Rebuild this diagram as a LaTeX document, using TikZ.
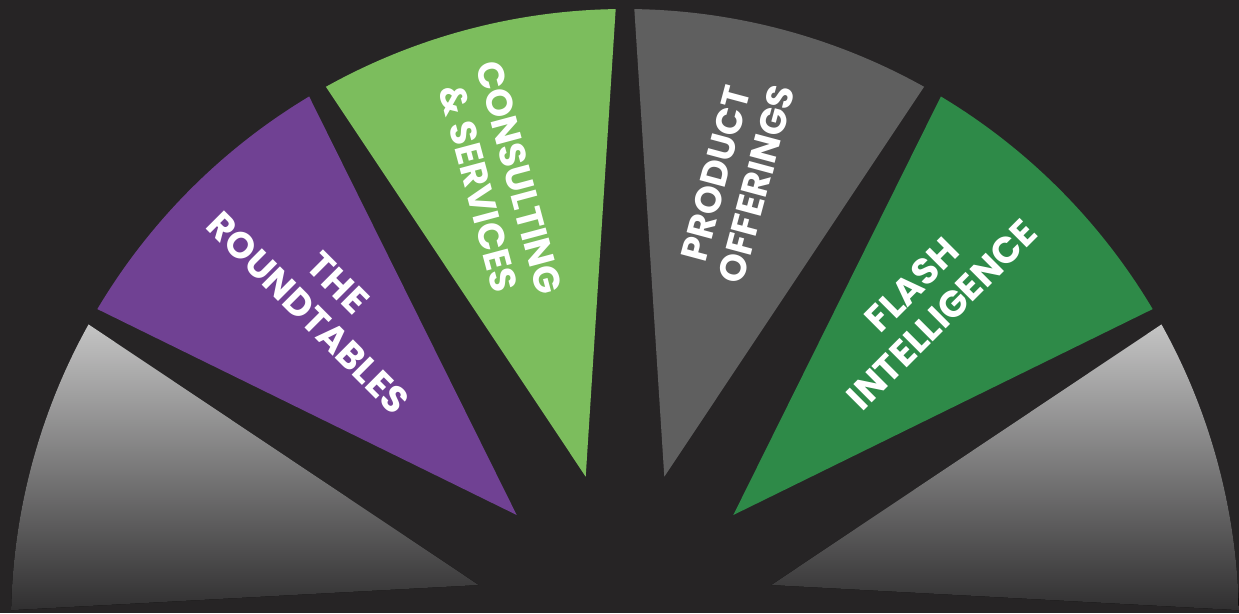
\documentclass[tikz,border=0pt]{standalone}
\usepackage{fontspec}
\setmainfont{Poppins}
\usepackage{tikz}
\usetikzlibrary{calc}
\definecolor{bgdark}{RGB}{38,36,37}
\definecolor{rtpurple}{RGB}{112,65,147}
\definecolor{csgreen}{RGB}{124,189,93}
\definecolor{pogray}{RGB}{95,95,95}
\definecolor{figreen}{RGB}{46,138,72}
\definecolor{fanlight}{RGB}{196,196,196}
\definecolor{fandark}{RGB}{48,47,48}

\begin{document}
\begin{tikzpicture}[
    x=0.02cm, y=0.02cm,
    wedgelabel/.style={text=white, font=\bfseries\fontsize{21}{24}\selectfont,
                       align=center, inner sep=0pt},
    fadewedge/.style={top color=fanlight, bottom color=fandark},
]
    % Background
    \fill[bgdark] (0,0) rectangle (1239,613);
    \coordinate (hub) at (625,-10);

    % Outer grey wedges
    \fill[fadewedge] (478.6,28) -- ($(hub)+(178.8:614)$) arc[start angle=178.8, end angle=150.9, radius=614] -- cycle;
    \fill[fadewedge] (771.4,28) -- ($(hub)+(29.1:614)$) arc[start angle=29.1, end angle=1.2, radius=614] -- cycle;

    % Coloured wedges
    \fill[rtpurple] (516.7,98) -- ($(hub)+(149.25:614)$) arc[start angle=149.25, end angle=120.96, radius=614] -- cycle;
    \fill[csgreen] (585.7,136.3) -- ($(hub)+(119.15:614)$) arc[start angle=119.15, end angle=90.87, radius=614] -- cycle;
    \fill[pogray] (664.3,136.3) -- ($(hub)+(89.13:614)$) arc[start angle=89.13, end angle=60.85, radius=614] -- cycle;
    \fill[figreen] (733.3,98) -- ($(hub)+(59.04:614)$) arc[start angle=59.04, end angle=30.75, radius=614] -- cycle;

    % Labels
    \node[wedgelabel, rotate=-45] (roundtables) at (323,315) {THE\\ROUNDTABLES};
    \node[wedgelabel, rotate=-75] (consulting) at (499,430) {CONSULTING\\\& SERVICES};
    \node[wedgelabel, rotate=75] (product) at (736,434) {PRODUCT\\OFFERINGS};
    \node[wedgelabel, rotate=45] (flash) at (927,313) {FLASH\\INTELLIGENCE};
\end{tikzpicture}
\end{document}
